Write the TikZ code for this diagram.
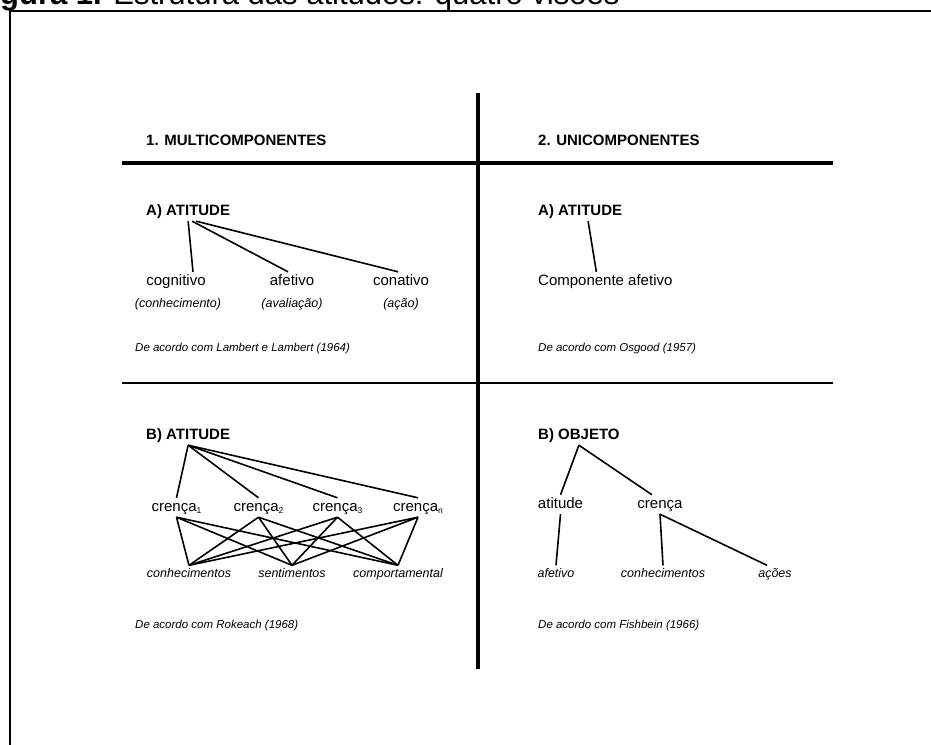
\documentclass[tikz,border=0pt]{standalone}
\usepackage{fontspec}
\setmainfont{Liberation Sans}
\usepackage{tikz}
\usetikzlibrary{positioning}

\newcommand{\idx}[1]{\raisebox{-2.5pt}{\fontsize{8.5}{8.5}\selectfont #1}}

\tikzset{
	head/.style={font=\fontsize{15}{18}\bfseries, anchor=base west, inner sep=2pt, text height=11pt, text depth=4pt},
	item/.style={font=\fontsize{15}{18}\selectfont, anchor=base, inner sep=2pt, text height=11pt, text depth=4pt},
	sub/.style={font=\fontsize{12.5}{15}\itshape, anchor=base, inner sep=2pt, text height=9.5pt, text depth=3pt},
	note/.style={font=\fontsize{11.5}{14}\itshape, anchor=base west, inner sep=2pt},
	link/.style={line width=1.6pt},
	bar/.style={line width=3.6pt},
	rule/.style={line width=1.2pt}
}

\begin{document}
\begin{tikzpicture}[x=1pt, y=-1pt]
		\useasboundingbox (0,0) rectangle (931,744);
		\fill[white] (0,0) rectangle (931,744);
		\clip (0,0) rectangle (931,744);
		
		% caption and frame, cut by the page
		\node[anchor=base west, inner sep=0pt, font=\fontsize{31}{36}\selectfont] (caption) at (0,5) {\textbf{gura 1.} Estrutura das atitudes: quatro visões};
		\draw[line width=2pt] (10,770) -- (10,11) -- (960,11);
		
		% grid of the four views
		\draw[bar] (478,93) -- (478,669);
		\draw[bar] (122,163) -- (833,163);
		\draw[rule] (122,383) -- (833,383);
		
		\node[head] (multi) at (144,145) {1. MULTICOMPONENTES};
		\node[head] (uni) at (536,145) {2. UNICOMPONENTES};
		
		% 1A: Lambert e Lambert
		\node[head] (attA) at (144,215) {A) ATITUDE};
		\node[item] (cog) at (176,285) {cognitivo};
		\node[item] (afe) at (292,285) {afetivo};
		\node[item] (con) at (401,285) {conativo};
		\node[sub] (cogS) at (178,307) {(conhecimento)};
		\node[sub] (afeS) at (292,307) {(avaliação)};
		\node[sub] (conS) at (401,307) {(ação)};
		\node[note] (srcA) at (133,351) {De acordo com Lambert e Lambert (1964)};
		
		\draw[link] (attA.south) -- ([xshift=17pt]cog.north);
		\draw[link] ([xshift=4pt]attA.south) -- ([xshift=-4pt]afe.north);
		\draw[link] ([xshift=8pt]attA.south) -- ([xshift=-3pt]con.north);
		
		% 2A: Osgood
		\node[head] (attR) at (536,215) {A) ATITUDE};
		\node[item, anchor=base west] (comp) at (536,285) {Componente afetivo};
		\node[note] (srcR) at (536,351) {De acordo com Osgood (1957)};
		
		\draw[link] ([xshift=8pt]attR.south) -- ([xshift=-9pt]comp.north);
		
		% 1B: Rokeach
		\node[head] (attB) at (144,439) {B) ATITUDE};
		\node[item] (c1) at (176.5,511) {crença\idx{1}};
		\node[item] (c2) at (258.5,511) {crença\idx{2}};
		\node[item] (c3) at (337.5,511) {crença\idx{3}};
		\node[item] (cn) at (418,511) {crença\idx{n}};
		\node[sub] (kno) at (189,577) {conhecimentos};
		\node[sub] (sen) at (292,577) {sentimentos};
		\node[sub] (beh) at (398,577) {comportamental};
		\node[note] (srcB) at (133,628) {De acordo com Rokeach (1968)};
		
		\foreach \c in {c1,c2,c3,cn}
			\draw[link] (attB.south) -- (\c.north);
		\foreach \c in {c1,c2,c3,cn}
			\foreach \t in {kno,sen,beh}
				\draw[link] (\c.south) -- (\t.north);
		
		% 2B: Fishbein
		\node[head] (obj) at (536,439) {B) OBJETO};
		\node[item] (att) at (560.5,508) {atitude};
		\node[item] (bel) at (660,508) {crença};
		\node[sub] (aff) at (556,577) {afetivo};
		\node[sub] (kn2) at (663,577) {conhecimentos};
		\node[sub] (act) at (775,577) {ações};
		\node[note] (srcF) at (536,628) {De acordo com Fishbein (1966)};
		
		\draw[link] (obj.south) -- (att.north);
		\draw[link] (obj.south) -- ([xshift=-8pt]bel.north);
		\draw[link] (att.south) -- (aff.north);
		\draw[link] (bel.south) -- (kn2.north);
		\draw[link] (bel.south) -- ([xshift=-8pt]act.north);
	\end{tikzpicture}
\end{document}
